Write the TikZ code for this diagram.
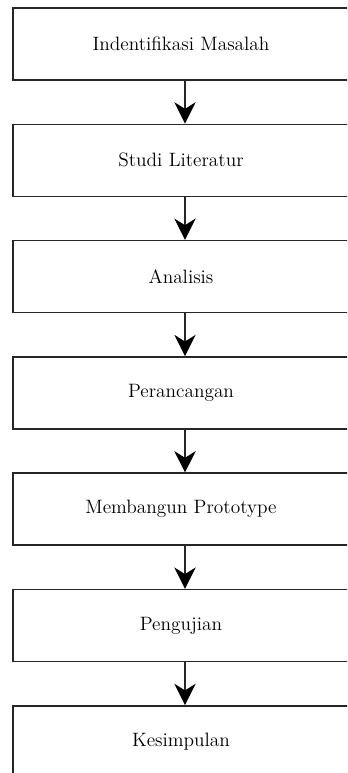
\documentclass[tikz,border=0pt]{standalone}
\usetikzlibrary{arrows.meta}
\begin{document}
\begin{tikzpicture}[x=0.75pt,y=-0.75pt,
  stepbox/.style={draw=black!85,line width=1.1pt,minimum width=258pt,minimum height=54pt,inner sep=0pt,font=\fontsize{14.5}{17}\selectfont,fill=white},
  flow/.style={draw=black!85,line width=1.1pt,-{Stealth[length=16pt,width=16pt,inset=5pt,black]}}]
\useasboundingbox (0,0) rectangle (347,773);
\clip (0,0) rectangle (347,773);
\fill[white] (0,0) rectangle (347,773);
\node[stepbox] (b1) at (185,44) {\hspace*{-6pt}Indentifikasi Masalah};
\node[stepbox] (b2) at (185,160.3) {\hspace*{-6pt}Studi Literatur};
\node[stepbox] (b3) at (185,276.6) {\hspace*{-6pt}Analisis};
\node[stepbox] (b4) at (185,392.9) {\hspace*{-6pt}Perancangan};
\node[stepbox] (b5) at (185,509.2) {\hspace*{-6pt}Membangun Prototype};
\node[stepbox] (b6) at (185,625.5) {\hspace*{-6pt}Pengujian};
\node[stepbox] (b7) at (185,741.8) {\hspace*{-6pt}Kesimpulan};
\foreach \a/\b in {b1/b2,b2/b3,b3/b4,b4/b5,b5/b6,b6/b7}
  \draw[flow] (\a.south) -- (\b.north);
\end{tikzpicture}
\end{document}
